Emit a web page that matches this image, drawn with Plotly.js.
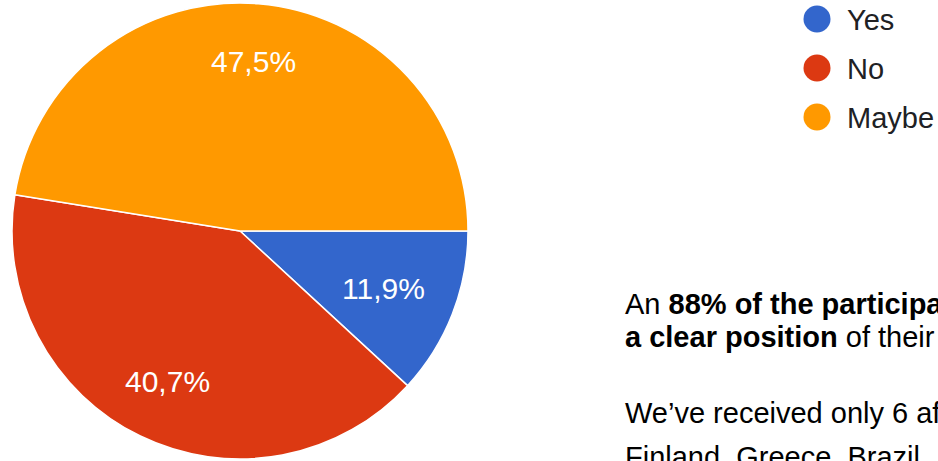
<!DOCTYPE html>
<html><head><meta charset="utf-8">
<script src="https://cdn.plot.ly/plotly-3.0.1.min.js"></script>
<style>html,body{margin:0;padding:0;background:#fff;overflow:hidden}#chart{width:938px;height:461px}</style>
</head><body><div id="chart"></div>
<script>
// Data
const categories = ['Yes', 'No', 'Maybe'];
const counts = [7, 24, 28];
const sliceColors = ['#3366cc', '#dc3912', '#ff9900'];
const noteLines = [
  'An <b>88% of the participa</b>',
  '<b>a clear position</b> of their',
  'We\u2019ve received only 6 af',
  'Finland, Greece, Brazil,'
];

// Layout constants (pixels)
const W = 938, H = 461;
const FONT = 'Liberation Sans, Arial, sans-serif';
const px = v => v / W;
const py = v => 1 - v / H;
const PIE_CX = 240, PIE_CY = 231, PIE_R = 228;
const labelRadiusFrac = [0.675, 0.73, 0.75];

const pie = {
  type: 'pie',
  labels: categories,
  values: counts,
  sort: false,
  direction: 'clockwise',
  rotation: 90,
  marker: {colors: sliceColors, line: {color: '#ffffff', width: 1.5}},
  textinfo: 'none',
  hoverinfo: 'label+percent',
  showlegend: false,
  domain: {x: [px(PIE_CX - PIE_R), px(PIE_CX + PIE_R)], y: [py(PIE_CY + PIE_R), py(PIE_CY - PIE_R)]}
};

const shapes = [];
const annotations = [];

// Percentage labels, positioned at each slice's mid-angle (derived from the data)
const total = counts.reduce((a, b) => a + b, 0);
let cum = 0;
counts.forEach((v, i) => {
  const frac = v / total;
  const midDeg = (cum + frac / 2) * 360; // clockwise from 3 o'clock
  cum += frac;
  const a = midDeg * Math.PI / 180;
  const r = PIE_R * labelRadiusFrac[i];
  const lx = PIE_CX + r * Math.cos(a);
  const ly = PIE_CY + r * Math.sin(a);
  const pct = (frac * 100).toFixed(1).replace('.', ',') + '%';
  annotations.push({
    xref: 'paper', yref: 'paper', x: px(lx), y: py(ly + 1),
    xanchor: 'center', yanchor: 'middle', showarrow: false,
    text: pct, font: {family: FONT, size: 30, color: '#ffffff'}
  });
});

// Legend (circle markers + labels)
const legendTop = 19, legendGap = 49, circleD = 27, circleX = 817, legendTextX = 845;
categories.forEach((c, i) => {
  const cy = legendTop + i * legendGap;
  shapes.push({
    type: 'circle', xref: 'paper', yref: 'paper',
    x0: px(circleX - circleD / 2), x1: px(circleX + circleD / 2),
    y0: py(cy + circleD / 2), y1: py(cy - circleD / 2),
    fillcolor: sliceColors[i], line: {width: 0}
  });
  annotations.push({
    xref: 'paper', yref: 'paper', x: px(legendTextX), y: py(cy + 1),
    xanchor: 'left', yanchor: 'middle', showarrow: false,
    text: c, font: {family: FONT, size: 29, color: '#202124'}
  });
});

// Side note text
const noteY = [304, 337, 413, 457];
noteLines.forEach((t, i) => {
  annotations.push({
    xref: 'paper', yref: 'paper', x: px(623), y: py(noteY[i]),
    xanchor: 'left', yanchor: 'middle', showarrow: false,
    text: t, font: {family: FONT, size: 29, color: '#000000'}
  });
});

const layout = {
  width: W, height: H,
  margin: {l: 0, r: 0, t: 0, b: 0},
  paper_bgcolor: '#ffffff',
  showlegend: false,
  shapes: shapes,
  annotations: annotations,
  font: {family: FONT}
};

Plotly.newPlot('chart', [pie], layout, {staticPlot: true, displayModeBar: false});
</script>
</body></html>
